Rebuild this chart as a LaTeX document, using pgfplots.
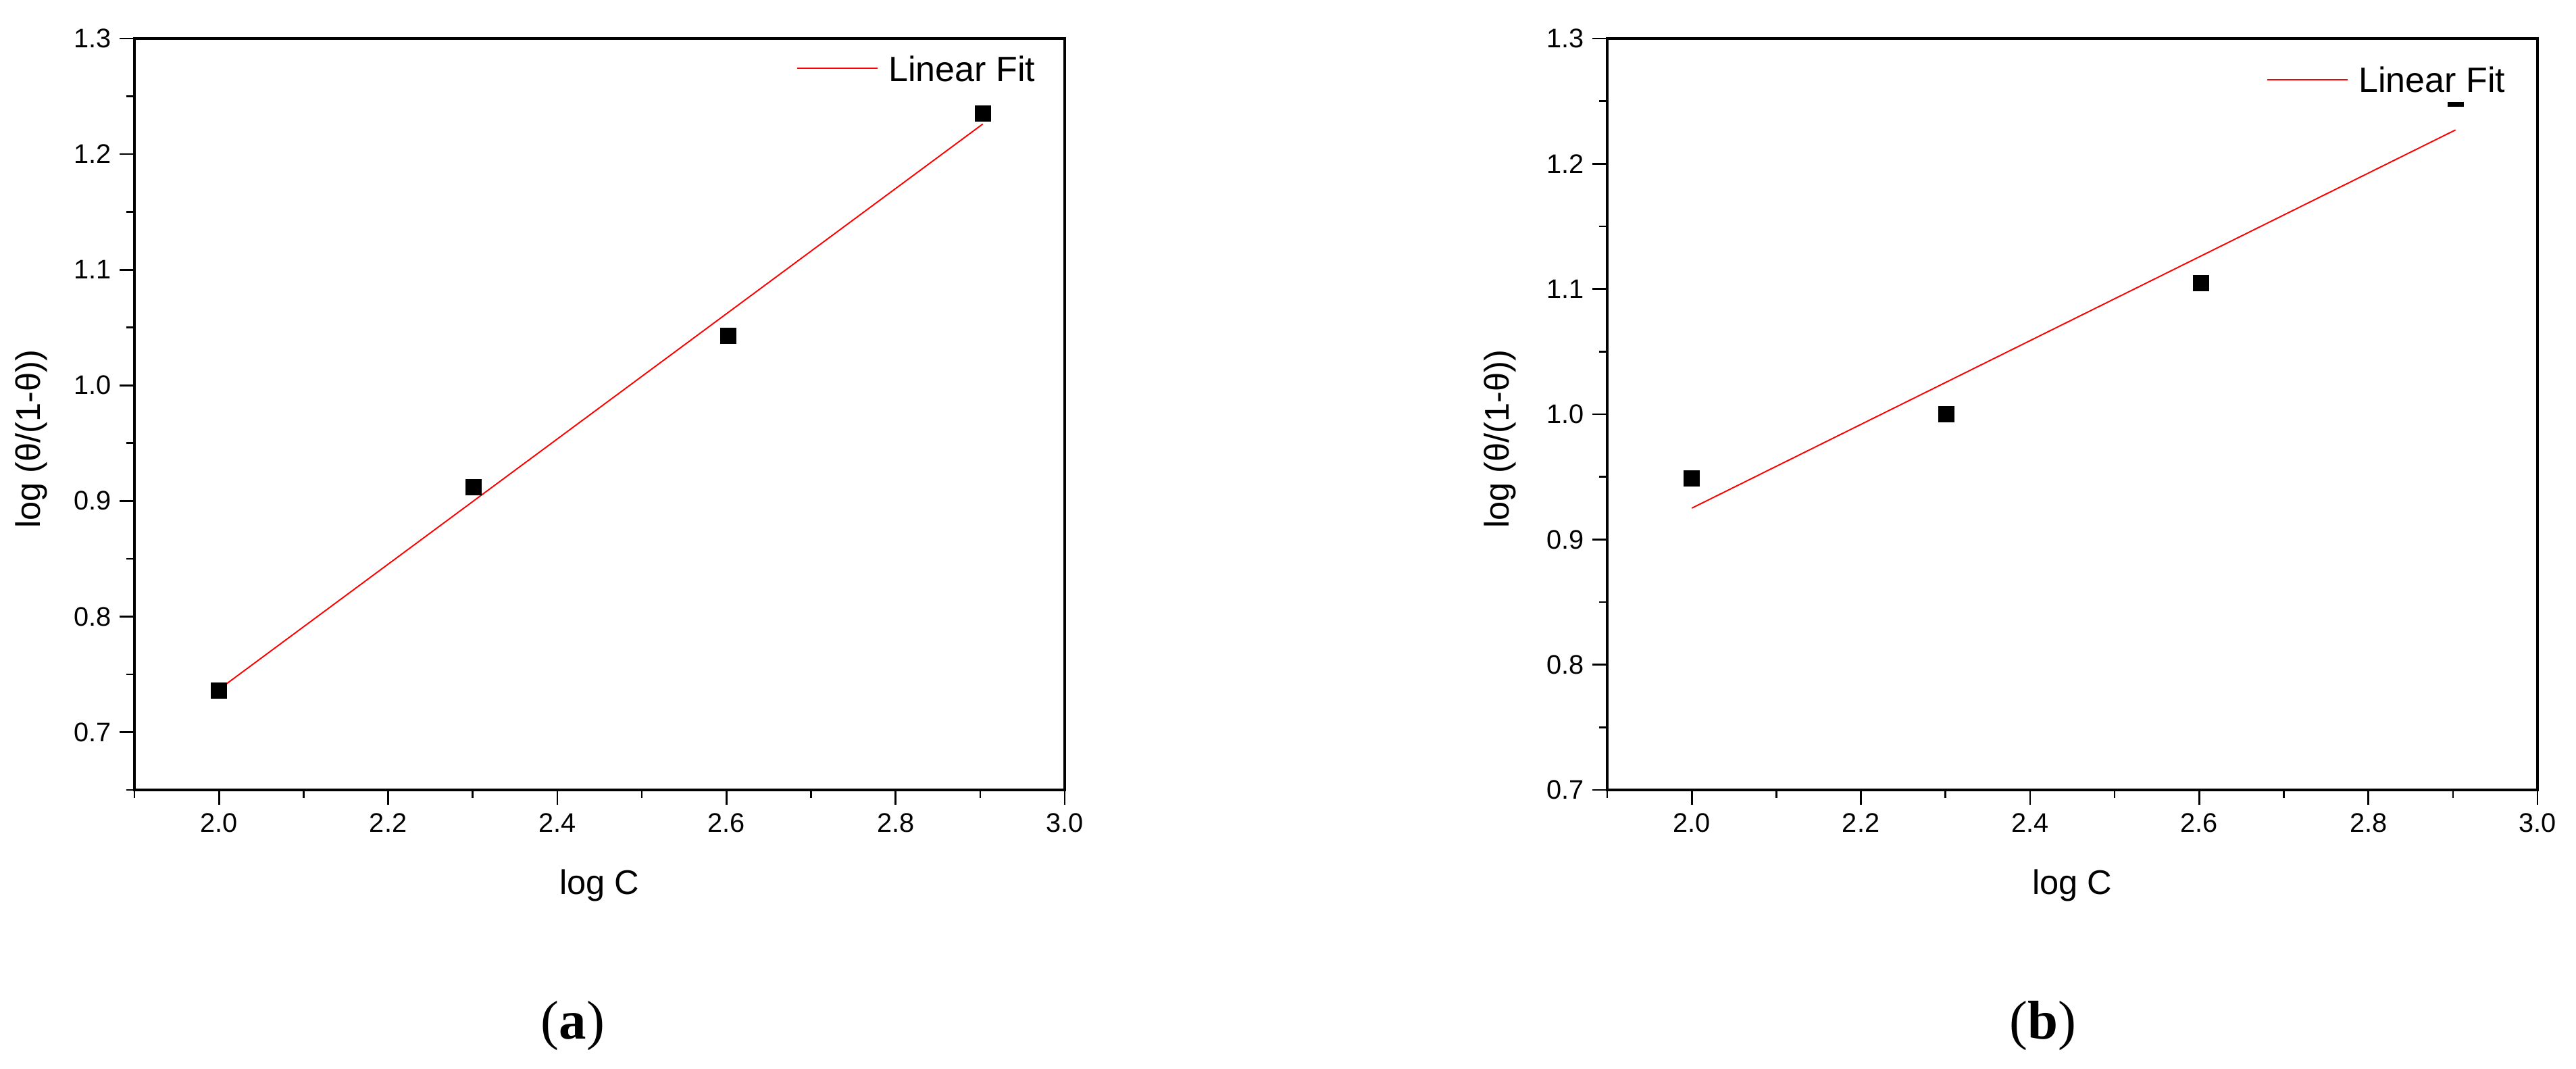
\documentclass[border=0pt]{standalone}
\usepackage{fontspec}
\setmainfont{Liberation Sans}
\newfontfamily\capfont{Liberation Serif}
\usepackage{pgfplots}
\pgfplotsset{compat=1.18}

\newcommand{\ticksize}{\fontsize{11.3}{13}\selectfont}
\newcommand{\labsize}{\fontsize{14.4}{17}\selectfont}
\newcommand{\legsize}{\fontsize{14.8}{17}\selectfont}

\pgfplotsset{
  langmuir/.style={
    scale only axis, width=13.77cm, height=11.12cm,
    xmin=1.9, xmax=3.0, ymax=1.3,
    xtick={2.0,2.2,2.4,2.6,2.8,3.0},
    minor xtick={1.9,2.1,2.3,2.5,2.7,2.9},
    ytick={0.7,0.8,0.9,1.0,1.1,1.2,1.3},
    tick pos=left, tick align=outside,
    major tick length=0.22cm, minor tick length=0.12cm,
    major tick style={black, line width=0.8pt},
    minor tick style={black, line width=0.75pt},
    axis line style={line width=0.95pt},
    tick label style={font=\ticksize},
    label style={font=\labsize},
    /pgf/number format/fixed,
    /pgf/number format/fixed zerofill,
    /pgf/number format/precision=1,
    /pgf/number format/assume math mode=true,
    xlabel={log C},
    ylabel={log (θ/(1-θ))},
    xlabel style={at={(axis description cs:0.5,-0.1385)}, anchor=base},
    legend image code/.code={\draw[#1, line width=0.55pt] (0cm,0cm) -- (1.19cm,0cm); \path (1.35cm,0cm);},
    legend style={draw=none, fill=white, inner xsep=0.05cm, inner ysep=0.15cm,
      nodes={inner sep=0pt, text depth=0pt}, font=\legsize, anchor=south east},
  },
  pts/.style={only marks, mark=square*, mark size=0.115cm,
    mark options={draw=black, fill=black, line width=0.2pt}, forget plot},
  fit/.style={red, line width=0.55pt, mark=none},
}

\begin{document}
\begin{tikzpicture}
\useasboundingbox (0,0) rectangle (38.13,15.81);

% (a)
\begin{axis}[langmuir, at={(1.99cm,4.12cm)}, anchor=south west,
  ymin=0.65,
  minor ytick={0.65,0.75,0.85,0.95,1.05,1.15,1.25},
  ylabel style={at={(axis description cs:-0.111,0.467)}, anchor=center},
  legend style={at={(0.9724,0.929)}}]
\addplot[pts] coordinates {(2.000,0.736) (2.301,0.912) (2.602,1.043) (2.903,1.235)};
\addplot[fit] coordinates {(2.000,0.737) (2.903,1.226)};
\addlegendentry{Linear Fit}
\end{axis}

% (b)
\begin{axis}[langmuir, at={(23.79cm,4.12cm)}, anchor=south west,
  ymin=0.7,
  minor ytick={0.75,0.85,0.95,1.05,1.15,1.25},
  ylabel style={at={(axis description cs:-0.115,0.467)}, anchor=center},
  legend style={at={(0.9695,0.9145)}}]
\addplot[pts] coordinates {(2.000,0.949) (2.301,1.000) (2.602,1.105) (2.903,1.252)};
\addplot[fit] coordinates {(2.000,0.925) (2.903,1.227)};
\addlegendentry{Linear Fit}
\end{axis}

\node[font=\capfont\fontsize{23}{26}\selectfont] at (8.48,0.63) {(\textbf{a})};
\node[font=\capfont\fontsize{23}{26}\selectfont] at (30.24,0.63) {(\textbf{b})};
\end{tikzpicture}
\end{document}
